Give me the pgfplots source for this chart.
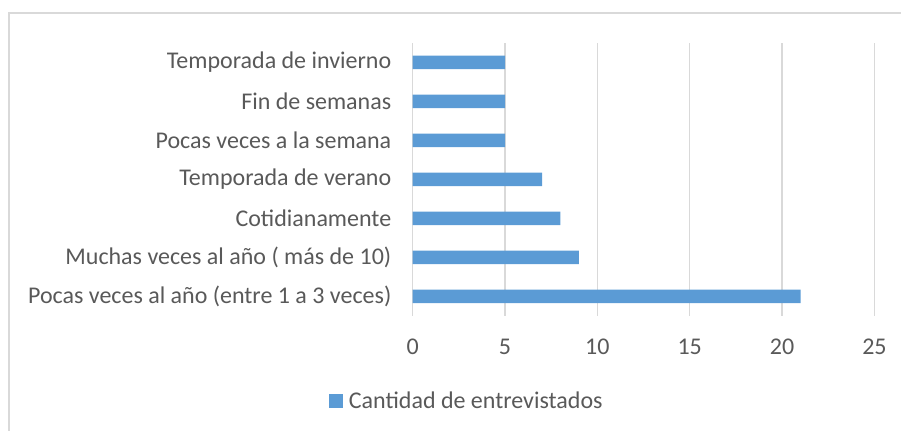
\documentclass[border=0pt]{standalone}
\usepackage{pgfplots}
\pgfplotsset{compat=1.18}
\usepackage{fontspec}
\setmainfont{Carlito}
\definecolor{barblue}{HTML}{5B9BD5}
\definecolor{txt}{HTML}{595959}
\definecolor{gridc}{HTML}{D9D9D9}
\begin{document}
\begin{tikzpicture}
\path (0bp,0bp) rectangle (902bp,431bp);
\draw[gridc, line width=1.2bp] (9bp,0bp) -- (9bp,418bp) -- (902bp,418bp);
\begin{axis}[
  at={(413bp,115bp)}, anchor=south west, scale only axis,
  width=462bp, height=273bp,
  xbar, bar width=13.5bp,
  xmin=0, xmax=25, ymin=-0.5, ymax=6.5,
  xtick={0,5,10,15,20,25}, ytick={0,1,2,3,4,5,6},
  yticklabels={Pocas veces al año (entre 1 a 3 veces),Muchas veces al año ( más de 10),Cotidianamente,Temporada de verano,Pocas veces a la semana,Fin de semanas,Temporada de invierno},
  xmajorgrids, grid style={gridc, line width=1.3bp},
  axis line style={draw=none},
  major tick length=0pt,
  tick label style={font=\fontsize{24bp}{28bp}\selectfont, text=txt},
  /pgf/number format/assume math mode=true,
  xticklabel style={yshift=-20bp},
  yticklabel style={xshift=-18bp},
  legend style={at={(0.117,-0.311)}, anchor=center, draw=none, fill=none,
    font=\fontsize{24bp}{28bp}\selectfont, text=txt},
  legend image code/.code={\fill[barblue] (0bp,-7bp) rectangle (14bp,7bp); \path (18bp,0bp);},
]
\addplot[fill=barblue, draw=none] coordinates {(21,0) (9,1) (8,2) (7,3) (5,4) (5,5) (5,6)};
\addlegendentry{Cantidad de entrevistados}
\end{axis}
\end{tikzpicture}
\end{document}
